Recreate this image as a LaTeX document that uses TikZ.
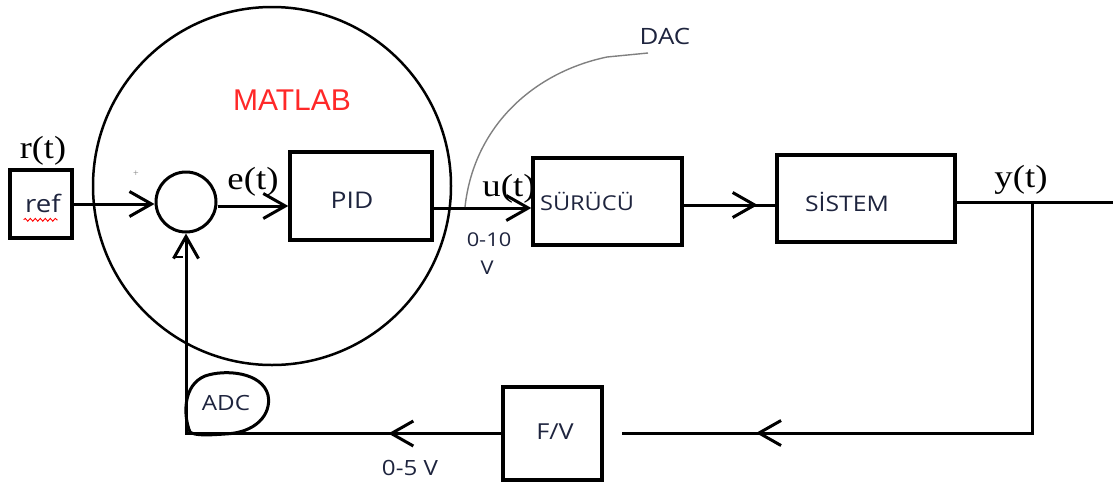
\documentclass[tikz,border=0pt]{standalone}
\usepackage{graphicx}
\usepackage{fontspec}
\setmainfont{Liberation Serif}
\newfontfamily\lblfont{Open Sans}
\newfontfamily\arialfont{Liberation Sans}
\usetikzlibrary{arrows.meta,decorations.pathmorphing,decorations.markings,calc}
\definecolor{lblcol}{RGB}{30,36,62}
\definecolor{matred}{RGB}{255,40,40}
\newcommand{\wide}[1]{\scalebox{1.15}[1]{#1}}
\begin{document}
\begin{tikzpicture}[x=1pt,y=-1pt,
  line width=3pt,
  blk/.style={draw, line width=3.4pt, inner sep=0pt},
  lbl/.style={font=\lblfont\fontsize{#1}{#1}\selectfont, text=lblcol, inner sep=0pt},
  lbl/.default=22,
  sig/.style={font=\fontsize{32}{34}\selectfont, inner sep=0pt},
  barb/.tip={Straight Barb[length=22pt,width=25pt,line width=3pt]},
  tip/.style={-barb},
  midtip/.style={postaction={decorate},decoration={markings,mark=at position #1 with {\arrow{barb}}}}
]
\useasboundingbox (0,0) rectangle (1119,488);

% MATLAB region
\node[draw, circle, minimum size=358pt, line width=2.5pt] (matlab) at (272,186) {};
\node[font=\arialfont\fontsize{30}{32}\selectfont, text=matred, inner sep=0pt] (matlabtxt) at (292,100) {MATLAB};

% blocks
\node[blk, minimum width=62pt, minimum height=68pt] (ref) at (41,204) {};
\node[lbl=24] (reftxt) at (43,203) {\wide{ref}};
\draw[red, line width=0.9pt, decorate, decoration={snake, amplitude=1.4pt, segment length=5pt}] (reftxt.south west) ++(0,6) coordinate (wl) -- ($(wl)+(34,0)$);

\node[draw, circle, minimum size=60pt, line width=3pt, inner sep=0pt] (sum) at (186,202) {};
\node[blk, minimum width=142pt, minimum height=88pt] (pid) at (361,196) {};
\node[lbl=23] (pidtxt) at (352,200) {\wide{PID}};
\node[blk, minimum width=149pt, minimum height=87pt] (sur) at (607.5,201.5) {};
\node[lbl=20.5] (surtxt) at (587,201) {\wide{SÜRÜCÜ}};
\node[blk, minimum width=178pt, minimum height=87pt] (sis) at (866,198.5) {};
\node[lbl=21.5] (sistxt) at (847,202) {\wide{SİSTEM}};
\node[blk, minimum width=99pt, minimum height=93pt] (fv) at (552.5,433.5) {};
\node[lbl=22] (fvtxt) at (555,432) {\wide{F/V}};

% coordinates
\coordinate (br) at (1032,202);
\coordinate (out) at (1113,202);
\coordinate (fvin) at (622,433);
\coordinate (dacstart) at (465,207);
\coordinate (dacbend) at (607,57);
\coordinate (dacend) at (648,53);

% connectors
\draw[tip] (ref.east) -- (ref.east -| sum.west);
\draw[tip] (sum.east |- 0,206) -- (pid.west |- 0,206);
\draw[tip] (pid.east |- 0,208) -- (sur.west |- 0,208);
\draw[midtip=74pt] (sur.east |- 0,205) -- (sis.west |- 0,205);
\draw (sis.east |- br) -- (out);
\draw[midtip=507pt] (br) |- (fvin);
\draw[tip, midtip=113pt] (fv.west) -| (sum.south);

% DAC curve
\draw[gray, line width=1.4pt] (dacstart) .. controls (474,125) and (535,72) .. (dacbend) -- (dacend);
\node[lbl=22.5] (dac) at (665,36) {\wide{DAC}};

% ADC blob
\draw[line width=3pt] (190,432) .. controls (183,415) and (183,385) .. (205,376)
  .. controls (225,369) and (262,372) .. (268,395)
  .. controls (272,415) and (255,433) .. (225,434)
  .. controls (210,435) and (195,436) .. (190,432);
\node[lbl=21] (adc) at (226,403) {\wide{ADC}};

% signal labels
\node[sig] (rt) at (43,151) {\scalebox{1.13}[1]{r(t)}};
\node[sig] (et) at (253,182) {\wide{e(t)}};
\node[sig] (ut) at (509,189) {\wide{u(t)}};
\node[sig] (yt) at (1021,180) {\wide{y(t)}};

% voltage labels
\node[lbl=19] (v010) at (489,240) {\wide{0-10}};
\node[lbl=19] (vv) at (487,268) {\wide{V}};
\node[lbl=21] (v05) at (410,468) {\wide{0-5 V}};

% sign marks
\node[font=\fontsize{10}{10}\selectfont, text=gray, inner sep=0pt] (plus) at (136,174) {+};
\draw[line width=2.4pt] (173,257) -- (183,257);
\end{tikzpicture}
\end{document}
